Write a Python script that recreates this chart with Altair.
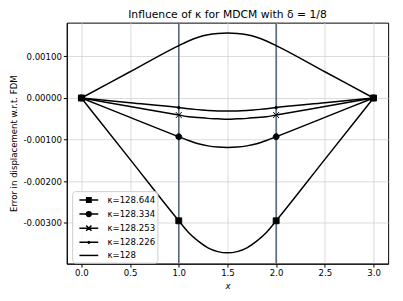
import altair as alt
import pandas as pd

# ---- data ----
labels = ["κ=128.644", "κ=128.334", "κ=128.253", "κ=128.226", "κ=128"]
x_vals = [0, 0.5, 1, 1.1, 1.2, 1.3, 1.4, 1.5, 1.6, 1.7, 1.8, 1.9, 2, 2.5, 3]
err_128644 = [0, -0.001475, -0.00295, -0.00323, -0.00344, -0.00360, -0.00369, -0.00372,
              -0.00369, -0.00360, -0.00344, -0.00323, -0.00295, -0.001475, 0]
err_128334 = [0, -0.000465, -0.00093, -0.00102, -0.00110, -0.00115, -0.00118, -0.00119,
              -0.00118, -0.00115, -0.00110, -0.00102, -0.00093, -0.000465, 0]
err_128253 = [0, -0.000205, -0.00041, -0.00045, -0.00047, -0.00049, -0.00050, -0.00051,
              -0.00050, -0.00049, -0.00047, -0.00045, -0.00041, -0.000205, 0]
err_128226 = [0, -0.000115, -0.00023, -0.00026, -0.00028, -0.00030, -0.00031, -0.00031,
              -0.00031, -0.00030, -0.00028, -0.00026, -0.00023, -0.000115, 0]
err_128 = [0, 0.00063, 0.00126, 0.00137, 0.00146, 0.00152, 0.00155, 0.00156,
           0.00155, 0.00152, 0.00146, 0.00137, 0.00126, 0.00063, 0]
marker_x = [0, 1, 2, 3]
vline_x = [1, 2]
y_ticks = [-0.003, -0.002, -0.001, 0.0, 0.001]
x_ticks = [0, 0.5, 1, 1.5, 2, 2.5, 3]

series = [err_128644, err_128334, err_128253, err_128226, err_128]

rows = []
for lab, vals in zip(labels, series):
    for xv, yv in zip(x_vals, vals):
        rows.append({"x": xv, "err": yv, "series": lab})
df = pd.DataFrame(rows)

marked = labels[:4]
df_markers = df[df["x"].isin(marker_x) & df["series"].isin(marked)]
df_vlines = pd.DataFrame({"x": vline_x})

marker_paths = [
    "M-1,-1H1V1H-1Z",
    "M1,0A1,1,0,1,1,-1,0A1,1,0,1,1,1,0Z",
    "M-1,-1L1,1M-1,1L1,-1",
    "M0.45,0A0.45,0.45,0,1,1,-0.45,0A0.45,0.45,0,1,1,0.45,0Z",
]
# legend glyphs: a line segment plus a marker, drawn with strokes only
LINE = "M-1.6,0H1.6"
legend_paths = [
    LINE + "M-0.5,-0.375H0.5M-0.5,-0.125H0.5M-0.5,0.125H0.5M-0.5,0.375H0.5",
    LINE + "M0.4,0A0.4,0.4,0,1,1,-0.4,0A0.4,0.4,0,1,1,0.4,0ZM-0.35,-0.2H0.35M-0.35,0.2H0.35",
    LINE + "M-0.45,-0.45L0.45,0.45M-0.45,0.45L0.45,-0.45",
    LINE + "M0.15,0A0.15,0.15,0,1,1,-0.15,0A0.15,0.15,0,1,1,0.15,0Z",
    LINE,
]

FONT = "DejaVu Sans"
xscale = alt.Scale(domain=[-0.15, 3.15], nice=False, zero=False)
yscale = alt.Scale(domain=[-0.00398, 0.00181], nice=False, zero=False)

x_enc = alt.X("x:Q", scale=xscale,
              axis=alt.Axis(values=x_ticks, format=".1f", title="x", titleFontStyle="italic",
                            grid=True))
y_enc = alt.Y("err:Q", scale=yscale,
              axis=alt.Axis(values=y_ticks, title="Error in displacement w.r.t. FDM",
                            labelExpr="replace(format(datum.value, '.5f'), '\u2212', '-')",
                            grid=True))

vlines = alt.Chart(df_vlines).mark_rule(color="#56697a", strokeWidth=1.6).encode(
    x=alt.X("x:Q", scale=xscale)
)

lines = alt.Chart(df).mark_line(color="black", strokeWidth=1.5, interpolate="monotone").encode(
    x=x_enc, y=y_enc, detail="series:N"
)

markers = alt.Chart(df_markers).mark_point(filled=True, fill="black", stroke="black",
                                           strokeWidth=1, size=36, opacity=1).encode(
    x=alt.X("x:Q", scale=xscale),
    y=alt.Y("err:Q", scale=yscale),
    shape=alt.Shape("series:N", scale=alt.Scale(domain=marked, range=marker_paths), legend=None),
)

legend_layer = alt.Chart(df).transform_filter("false").mark_point(
    filled=False, color="black", strokeWidth=1.5, opacity=1
).encode(
    x=alt.X("x:Q", scale=xscale),
    y=alt.Y("err:Q", scale=yscale),
    shape=alt.Shape("series:N", scale=alt.Scale(domain=labels, range=legend_paths),
                    legend=alt.Legend(title=None, orient="none", legendX=5.5, legendY=172,
                                      symbolSize=144, symbolStrokeColor="black",
                                      symbolStrokeWidth=1.5, symbolOpacity=1,
                                      labelFont=FONT, labelFontSize=8.75, labelColor="black",
                                      padding=2, symbolOffset=8, labelOffset=12, rowPadding=1.4,
                                      fillColor="rgba(255,255,255,0.8)", strokeColor="#cccccc",
                                      cornerRadius=3)),
)

chart = alt.layer(vlines, lines, markers, legend_layer).resolve_scale(
    shape="independent"
).properties(
    width=328, height=246,
    autosize=alt.AutoSizeParams(type="none"),
    padding={"left": 60, "top": 12, "right": 7, "bottom": 27},
    title=alt.TitleParams("Influence of κ for MDCM with δ = 1/8", font=FONT, fontSize=11,
                          fontWeight="normal", color="black", anchor="middle", offset=1.5),
).configure_view(
    stroke="black", strokeWidth=1
).configure_axis(
    labelFont=FONT, labelFontSize=8.75, labelColor="black",
    titleFont=FONT, titleFontSize=8.75, titleColor="black", titleFontWeight="normal",
    domainColor="black", tickColor="black", tickSize=3.5, labelPadding=2,
    gridColor="#d0d0d0", gridWidth=0.8,
)

chart.save("out.html", embed_options={"renderer": "svg", "actions": False})
